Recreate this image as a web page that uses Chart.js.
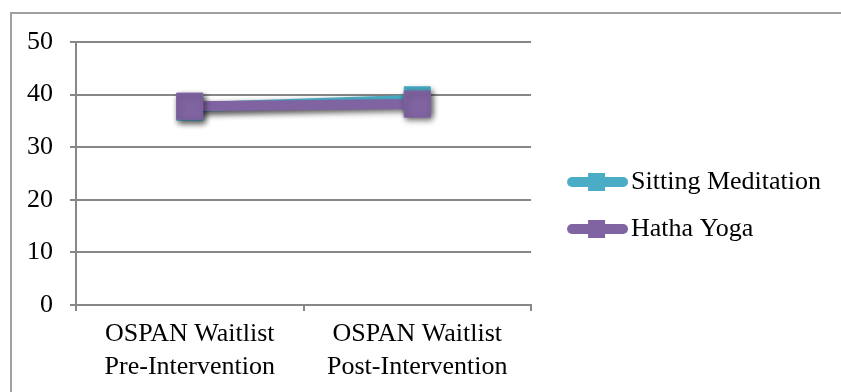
<!DOCTYPE html>
<html>
<head>
<meta charset="utf-8">
<script src="https://cdn.jsdelivr.net/npm/chart.js@4/dist/chart.umd.min.js"></script>
<style>
  html, body { margin: 0; padding: 0; background: #ffffff; overflow: hidden; }
  #frame {
    position: absolute; left: 10px; top: 12px; width: 900px; height: 500px;
    border-top: 2px solid #a0a0a0; border-left: 2px solid #a0a0a0;
  }
  #wrap { position: absolute; left: 0; top: 0; width: 841px; height: 392px; }
</style>
</head>
<body>
<div id="frame"></div>
<div id="wrap"><canvas id="chart" width="841" height="392"></canvas></div>
<script>
// Working-memory (OSPAN) scores, waitlist phase
const categories = [["OSPAN Waitlist", "Pre-Intervention"], ["OSPAN Waitlist", "Post-Intervention"]];
const sittingMeditation = [37.6, 39.0];
const hathaYoga = [37.8, 38.2];
const yTicks = [0, 10, 20, 30, 40, 50];

const TEAL = "#4bacc6";
const PURPLE = "#8064a2";
const GRID = "#878787";
const FONT = { family: "'Liberation Serif', 'Times New Roman', serif", size: 26, lineHeight: 1.25 };

// Legend swatch: thick rounded line with a square marker in the middle
function swatch(color) {
  const c = document.createElement("canvas");
  c.width = 86; c.height = 20;
  const g = c.getContext("2d");
  g.strokeStyle = color;
  g.lineWidth = 10;
  g.lineCap = "round";
  g.beginPath();
  g.moveTo(30, 10);
  g.lineTo(81, 10);
  g.stroke();
  g.fillStyle = color;
  g.fillRect(46, 1, 17, 18);
  return c;
}

// Soft drop shadow under each series
const seriesShadow = {
  id: "seriesShadow",
  beforeDatasetDraw(chart) {
    const ctx = chart.ctx;
    ctx.save();
    ctx.shadowColor = "rgba(0,0,0,0.45)";
    ctx.shadowBlur = 6;
    ctx.shadowOffsetX = 2;
    ctx.shadowOffsetY = 3;
  },
  afterDatasetDraw(chart) {
    chart.ctx.restore();
  }
};

// Let the two-line category labels use the full height below the axis
const fullHeightLabels = {
  id: "fullHeightLabels",
  afterLayout(chart) {
    chart.scales.x.bottom = chart.height;
  }
};

new Chart(document.getElementById("chart"), {
  type: "line",
  data: {
    labels: categories,
    datasets: [
      {
        label: "Sitting Meditation",
        data: sittingMeditation,
        borderColor: TEAL,
        backgroundColor: TEAL,
        pointBackgroundColor: TEAL,
        pointBorderColor: TEAL,
        order: 1
      },
      {
        label: "Hatha Yoga",
        data: hathaYoga,
        borderColor: PURPLE,
        backgroundColor: PURPLE,
        pointBackgroundColor: PURPLE,
        pointBorderColor: PURPLE,
        order: 0
      }
    ]
  },
  options: {
    responsive: false,
    animation: false,
    layout: { padding: { left: 0, top: 42, right: 10, bottom: 23 } },
    elements: {
      line: { borderWidth: 10, borderCapStyle: "round", tension: 0 },
      point: { pointStyle: "rect", radius: 18.5, borderWidth: 1, hoverRadius: 18.5 }
    },
    scales: {
      x: {
        offset: true,
        grid: { offset: true, drawOnChartArea: false, drawTicks: true, tickLength: 6, color: GRID, lineWidth: 2 },
        border: { display: true, color: GRID, width: 2 },
        ticks: { color: "#000", font: FONT, padding: 7, maxRotation: 0, autoSkip: false },
        afterFit(scale) { scale.height = 64; }
      },
      y: {
        min: 0,
        max: 50,
        afterBuildTicks(scale) { scale.ticks = yTicks.map(v => ({ value: v })); },
        grid: { color: GRID, lineWidth: 2, tickLength: 6 },
        border: { display: true, color: GRID, width: 2 },
        ticks: { color: "#000", font: FONT, padding: 17 },
        afterFit(scale) { scale.width = 76; }
      }
    },
    plugins: {
      tooltip: { enabled: false },
      legend: {
        position: "right",
        maxWidth: 300,
        labels: {
          usePointStyle: true,
          pointStyleWidth: 66,
          padding: 21,
          color: "#000",
          font: FONT,
          generateLabels(chart) {
            return chart.data.datasets.map((ds, i) => ({
              text: ds.label,
              pointStyle: swatch(ds.borderColor),
              fillStyle: ds.borderColor,
              strokeStyle: ds.borderColor,
              lineWidth: 0,
              fontColor: "#000",
              hidden: !chart.isDatasetVisible(i),
              datasetIndex: i
            }));
          }
        }
      }
    }
  },
  plugins: [seriesShadow, fullHeightLabels]
});
</script>
</body>
</html>
